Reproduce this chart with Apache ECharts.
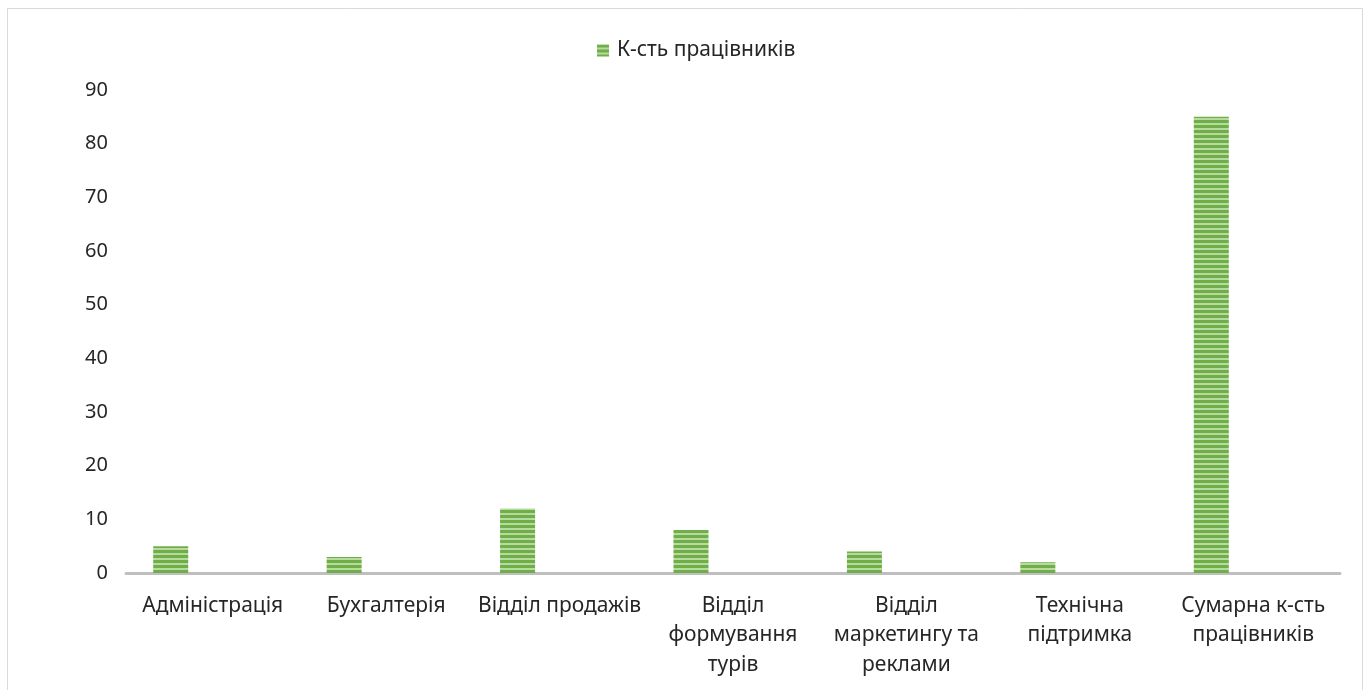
<!DOCTYPE html>
<html>
<head>
<meta charset="utf-8">
<script src="https://cdn.jsdelivr.net/npm/echarts@6/dist/echarts.min.js"></script>
<style>
  html, body { margin: 0; padding: 0; background: #fff; }
  #chart { width: 1370px; height: 690px; }
</style>
</head>
<body>
<div id="chart"></div>
<script>
  // дані
  const categories = ['Адміністрація', 'Бухгалтерія', 'Відділ продажів', 'Відділ\nформування\nтурів', 'Відділ\nмаркетингу та\nреклами', 'Технічна\nпідтримка', 'Сумарна к-сть\nпрацівників'];
  const workers = [5, 3, 12, 8, 4, 2, 85];
  const seriesName = 'К-сть працівників';

  // смугаста заливка
  const pat = document.createElement('canvas');
  pat.width = 4; pat.height = 5;
  const pctx = pat.getContext('2d');
  pctx.fillStyle = '#6fae48'; pctx.fillRect(0, 0, 4, 5);
  pctx.fillStyle = '#b7da9f'; pctx.fillRect(0, 3, 4, 2);

  const font = '"Noto Sans", "DejaVu Sans", sans-serif';
  const myChart = echarts.init(document.getElementById('chart'));
  const option = {
    animation: false,
    textStyle: { fontFamily: font },
    graphic: [{
      type: 'rect',
      shape: { x: 7.5, y: 8.5, width: 1355, height: 700 },
      style: { fill: 'none', stroke: '#d9d9d9', lineWidth: 1 },
      silent: true
    }],
    legend: {
      data: [seriesName],
      top: 35,
      left: 592,
      icon: 'rect',
      itemWidth: 12,
      itemHeight: 12,
      textStyle: { fontSize: 21, color: '#262626', fontFamily: font, padding: [0, 0, 0, 3] }
    },
    grid: { left: 126, right: 30, top: 90, bottom: 117 },
    xAxis: {
      type: 'category',
      data: categories,
      axisLine: { lineStyle: { color: '#bfbfbf', width: 3 } },
      axisTick: { show: false },
      axisLabel: {
        interval: 0,
        fontSize: 21,
        lineHeight: 29.5,
        margin: 18,
        color: '#262626',
        fontFamily: font
      }
    },
    yAxis: {
      type: 'value',
      min: 0,
      max: 90,
      interval: 10,
      splitLine: { show: false },
      axisLine: { show: false },
      axisTick: { show: false },
      axisLabel: { fontSize: 20, margin: 18, color: '#262626', fontFamily: font }
    },
    series: [
      {
        name: seriesName,
        type: 'bar',
        data: workers,
        barWidth: 35,
        barGap: '140%',
        itemStyle: { color: { image: pat, repeat: 'repeat' } }
      },
      {
        name: '',
        type: 'bar',
        data: [],
        barWidth: 35
      }
    ]
  };
  myChart.setOption(option);
</script>
</body>
</html>
